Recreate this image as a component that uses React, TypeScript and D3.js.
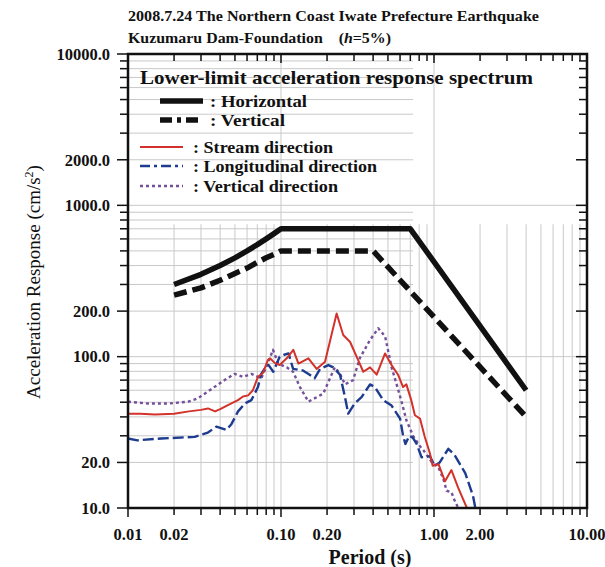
import { useEffect, useRef } from 'react';
import * as d3 from 'd3';

const W = 605;
const H = 567;

// lower-limit design spectra
const horizT = [0.02, 0.03, 0.04, 0.05, 0.06, 0.07, 0.08, 0.09, 0.1, 0.7, 4.0];
const horizV = [300, 350, 400, 450, 500, 550, 600, 650, 700, 700, 60];
const vertT = [0.02, 0.03, 0.04, 0.05, 0.06, 0.07, 0.08, 0.09, 0.1, 0.4, 4.0];
const vertV = [255, 285, 320, 355, 385, 420, 450, 475, 500, 500, 40];

// observed spectra
const streamT = [0.01, 0.012, 0.015, 0.02, 0.025, 0.03, 0.0333, 0.0371, 0.04, 0.045, 0.0523, 0.0565, 0.061, 0.0655, 0.0707, 0.0762, 0.082, 0.0847, 0.091, 0.098, 0.109, 0.1204, 0.13, 0.151, 0.171, 0.194, 0.231, 0.255, 0.283, 0.312, 0.345, 0.382, 0.422, 0.479, 0.528, 0.582, 0.628, 0.66, 0.71, 0.75, 0.81, 0.87, 0.94, 0.98, 1.07, 1.18, 1.3, 1.44, 1.64, 1.7];
const streamV = [42, 42, 41.5, 42, 43.5, 44.5, 45.5, 43.5, 45, 47.9, 51.6, 54.6, 55.5, 60, 73.6, 78, 95, 97.5, 91, 88, 97.5, 111, 90, 97.5, 83, 92.5, 193, 139, 125, 100, 79.5, 85, 76, 105, 88, 76, 63, 65.6, 51.6, 41, 39, 29.6, 23, 19, 19.5, 15, 17.8, 13.6, 10, 9];

const longT = [0.01, 0.0115, 0.0165, 0.0273, 0.0333, 0.0378, 0.0439, 0.0474, 0.0524, 0.058, 0.064, 0.0707, 0.0743, 0.078, 0.083, 0.089, 0.098, 0.105, 0.112, 0.12, 0.139, 0.154, 0.166, 0.18, 0.204, 0.22, 0.243, 0.262, 0.275, 0.303, 0.336, 0.382, 0.411, 0.466, 0.528, 0.6, 0.628, 0.65, 0.69, 0.73, 0.77, 0.83, 0.94, 1.01, 1.09, 1.24, 1.36, 1.6, 1.8, 1.9];
const longV = [28.8, 28, 28.8, 29.5, 31.5, 34.5, 32.8, 35.8, 43.5, 49, 51.6, 63, 77, 83, 88, 79.5, 100, 103, 105, 83, 81, 76, 72, 83, 88, 85, 76, 54, 42, 49, 54, 65.6, 63, 51.6, 47.5, 39, 30, 26.5, 30, 29, 26.5, 21.6, 22, 19, 20, 24.6, 22.5, 17, 12, 9];

const vdirT = [0.01, 0.0135, 0.0183, 0.0247, 0.0286, 0.035, 0.0428, 0.0497, 0.0565, 0.064, 0.0743, 0.082, 0.0886, 0.096, 0.109, 0.12, 0.133, 0.151, 0.171, 0.189, 0.209, 0.225, 0.243, 0.262, 0.296, 0.327, 0.382, 0.432, 0.479, 0.5, 0.528, 0.57, 0.61, 0.66, 0.73, 0.81, 0.85, 0.97, 1.07, 1.15, 1.21, 1.3, 1.36, 1.44, 1.5];
const vdirV = [50.4, 49, 49, 50.4, 53, 61, 70, 77, 73.6, 77, 72, 90, 111, 90, 85, 79.5, 63, 50.4, 54, 57, 72, 85, 77, 65.6, 70, 97.5, 129, 154, 136, 111, 85, 65.6, 51.6, 38, 30, 25.6, 24.2, 20, 18.5, 15.6, 13, 12.7, 11.3, 10, 9];

const xLabels = ['0.01', '0.02', '0.10', '0.20', '1.00', '2.00', '10.00'];
const yLabels = ['10.0', '20.0', '100.0', '200.0', '1000.0', '2000.0', '10000.0'];

const serif = '"Liberation Serif", "DejaVu Serif", serif';

export default function App() {
  const ref = useRef<SVGSVGElement>(null);

  useEffect(() => {
    const svgEl = ref.current;
    if (!svgEl) return;
    const svg = d3.select(svgEl);
    svg.selectAll('*').remove();

    const x = d3.scaleLog().domain([0.01, 10]).range([128, 587]);
    const y = d3.scaleLog().domain([10, 10000]).range([508, 54]);
    const isMajor = (v: number) => Math.abs(Math.log10(v) - Math.round(Math.log10(v))) < 1e-6;

    svg.append('defs').append('clipPath').attr('id', 'plot-clip')
      .append('rect').attr('x', 128).attr('y', 54).attr('width', 459).attr('height', 454);

    // grid
    const grid = svg.append('g').attr('stroke', '#c9c9c9').attr('stroke-width', 1);
    x.ticks().forEach(t => {
      grid.append('line')
        .attr('x1', x(t)).attr('x2', x(t))
        .attr('y1', isMajor(t) ? y(10000) : y(750)).attr('y2', y(10));
    });
    y.ticks().forEach(t => {
      grid.append('line')
        .attr('y1', y(t)).attr('y2', y(t))
        .attr('x1', x(0.01)).attr('x2', isMajor(t) ? x(10) : x(0.73));
    });

    const line = d3.line<[number, number]>().x(d => x(d[0])).y(d => y(d[1]));
    const plot = svg.append('g').attr('clip-path', 'url(#plot-clip)').attr('fill', 'none');

    const series = [
      { t: vdirT, v: vdirV, color: '#74509a', width: 2.4, dash: '3,3' },
      { t: longT, v: longV, color: '#1d3c8f', width: 2.4, dash: '11,4' },
      { t: streamT, v: streamV, color: '#d2322a', width: 2, dash: null },
      { t: horizT, v: horizV, color: '#111', width: 5.5, dash: null },
      { t: vertT, v: vertV, color: '#111', width: 5.5, dash: '13,6' },
    ];
    series.forEach(s => {
      plot.append('path')
        .attr('d', line(s.t.map((t, i) => [t, s.v[i]] as [number, number])))
        .attr('stroke', s.color)
        .attr('stroke-width', s.width)
        .attr('stroke-dasharray', s.dash)
        .attr('stroke-linejoin', 'round');
    });

    // ticks
    const ticks = svg.append('g').attr('stroke', '#111').attr('stroke-width', 1.5);
    x.ticks().forEach(t => {
      const len = isMajor(t) ? 9 : 7;
      ticks.append('line').attr('x1', x(t)).attr('x2', x(t)).attr('y1', 508).attr('y2', 508 + len);
      ticks.append('line').attr('x1', x(t)).attr('x2', x(t)).attr('y1', 54).attr('y2', 54 + len);
    });
    y.ticks().forEach(t => {
      const len = isMajor(t) || yLabels.includes(t.toFixed(1)) ? 11 : 8;
      ticks.append('line').attr('x1', 128).attr('x2', 128 - len).attr('y1', y(t)).attr('y2', y(t));
      ticks.append('line').attr('x1', 587).attr('x2', 587 - len).attr('y1', y(t)).attr('y2', y(t));
    });

    // frame
    svg.append('rect')
      .attr('x', 128).attr('y', 54).attr('width', 459).attr('height', 454)
      .attr('fill', 'none').attr('stroke', '#111').attr('stroke-width', 2.5);

    // tick labels
    const lab = svg.append('g').attr('font-family', serif).attr('font-weight', 'bold')
      .attr('font-size', 16.5).attr('fill', '#111');
    xLabels.forEach(s => {
      lab.append('text').attr('x', x(+s)).attr('y', 540).attr('text-anchor', 'middle').text(s);
    });
    yLabels.forEach(s => {
      lab.append('text').attr('x', 110).attr('y', y(+s)).attr('dy', '0.35em')
        .attr('text-anchor', 'end').text(s);
    });

    // axis titles
    svg.append('text')
      .attr('x', 370).attr('y', 564).attr('text-anchor', 'middle')
      .attr('font-family', serif).attr('font-weight', 'bold').attr('font-size', 20)
      .attr('fill', '#111').text('Period (s)');

    const yt = svg.append('text')
      .attr('transform', 'translate(40,282) rotate(-90)')
      .attr('text-anchor', 'middle')
      .attr('font-family', serif).attr('font-size', 19).attr('fill', '#111');
    yt.append('tspan').text('Acceleration Response (cm/s');
    yt.append('tspan').attr('dy', -7).attr('font-size', 12).text('2');
    yt.append('tspan').attr('dy', 7).text(')');

    // title
    const title = svg.append('g').attr('font-family', serif).attr('font-weight', 'bold')
      .attr('font-size', 15).attr('fill', '#111');
    title.append('text').attr('x', 128).attr('y', 21)
      .attr('textLength', 411).attr('lengthAdjust', 'spacingAndGlyphs')
      .text('2008.7.24 The Northern Coast Iwate Prefecture Earthquake');
    const t2 = title.append('text').attr('x', 128).attr('y', 43)
      .attr('textLength', 263).attr('lengthAdjust', 'spacingAndGlyphs');
    t2.append('tspan').text('Kuzumaru Dam-Foundation\u3000(');
    t2.append('tspan').attr('font-style', 'italic').text('h');
    t2.append('tspan').text('=5%)');

    // legend
    const leg = svg.append('g').attr('font-family', serif).attr('font-weight', 'bold').attr('fill', '#111');
    leg.append('text').attr('x', 140).attr('y', 84).attr('font-size', 19)
      .attr('textLength', 393).attr('lengthAdjust', 'spacingAndGlyphs')
      .text('Lower-limit acceleration response spectrum');

    const rows = [
      { y: 101, x1: 160, x2: 203, tx: 210, w: 97, color: '#111', width: 5.5, dash: null, label: ': Horizontal' },
      { y: 120, x1: 160, x2: 203, tx: 210, w: 75, color: '#111', width: 5.5, dash: '12,5,4,5', label: ': Vertical' },
      { y: 147, x1: 140, x2: 183, tx: 193, w: 140, color: '#d2322a', width: 2, dash: null, label: ': Stream direction' },
      { y: 166, x1: 140, x2: 183, tx: 193, w: 184, color: '#1d3c8f', width: 2.4, dash: '10,4,3,4', label: ': Longitudinal direction' },
      { y: 186, x1: 140, x2: 183, tx: 193, w: 145, color: '#74509a', width: 2.4, dash: '3,3', label: ': Vertical direction' },
    ];
    rows.forEach(r => {
      leg.append('line').attr('x1', r.x1).attr('x2', r.x2).attr('y1', r.y).attr('y2', r.y)
        .attr('stroke', r.color).attr('stroke-width', r.width).attr('stroke-dasharray', r.dash);
      leg.append('text').attr('x', r.tx).attr('y', r.y).attr('dy', '0.35em')
        .attr('font-size', 17.5).attr('textLength', r.w).attr('lengthAdjust', 'spacingAndGlyphs')
        .text(r.label);
    });
  }, []);

  return (
    <svg ref={ref} width={W} height={H} viewBox={`0 0 ${W} ${H}`}
      style={{ display: 'block', position: 'absolute', left: 0, top: 0, background: '#fff' }} />
  );
}
